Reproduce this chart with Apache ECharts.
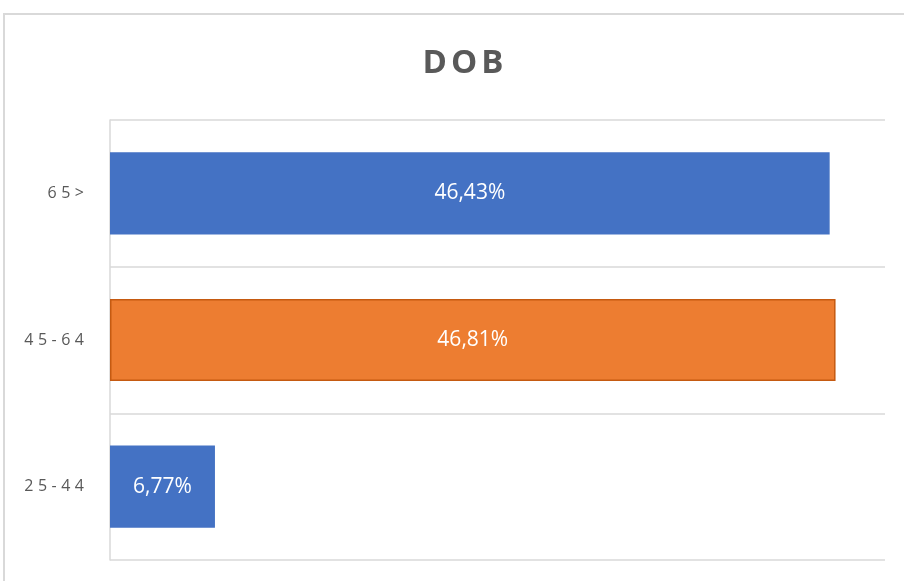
<!DOCTYPE HTML>
<html>

<head>
  <title>DOB</title>
  <meta charset="utf-8" />
  <style>
    html, body { margin: 0; padding: 0; background: #fff; }
  </style>
</head>

<body>
  <div id="main" style="width: 904px; height: 581px;"></div>

  <script type="text/javascript" src="https://cdn.jsdelivr.net/npm/echarts@6.0.0/dist/echarts.min.js"></script>
  <script type="text/javascript">
    // data, bottom to top
    var categories = ['25-44', '45-64', '65>'];
    var values = [6.77, 46.81, 46.43];
    var barColors = ['#4472C4', '#ED7D31', '#4472C4'];
    var barBorders = ['#4472C4', '#C55A11', '#4472C4'];

    var myChart = echarts.init(document.getElementById('main'), null, { renderer: 'canvas' });

    // spread letters out a bit, like the spaced text in the original
    function spaced(str, tag) {
      var out = '';
      for (var k = 0; k < str.length; k++) {
        out += '{' + (k < str.length - 1 ? tag : tag + 'e') + '|' + str.charAt(k) + '}';
      }
      return out;
    }

    var seriesData = [];
    for (var i = 0; i < values.length; i++) {
      seriesData.push({
        value: values[i],
        itemStyle: { color: barColors[i], borderColor: barBorders[i], borderWidth: 1.5 }
      });
    }

    var titleStyle = { fontSize: 33, fontWeight: 'bold', color: '#595959', fontFamily: 'Open Sans' };
    var catStyle = { fontSize: 16, color: '#595959', fontFamily: 'Open Sans' };

    myChart.setOption({
      animation: false,
      textStyle: { fontFamily: 'Open Sans' },
      title: {
        text: spaced('DOB', 't'),
        left: 458,
        top: 42,
        textAlign: 'center',
        textStyle: {
          fontSize: 33, fontWeight: 'bold', color: '#595959', fontFamily: 'Open Sans',
          rich: {
            t: Object.assign({ padding: [0, 4, 0, 0] }, titleStyle),
            te: titleStyle
          }
        }
      },
      graphic: [
        {
          type: 'rect',
          shape: { x: 4, y: 14, width: 1200, height: 1000 },
          style: { fill: 'none', stroke: '#d9d9d9', lineWidth: 2 },
          silent: true
        }
      ],
      grid: { left: 110, right: 19, top: 120, bottom: 21 },
      xAxis: {
        type: 'value',
        min: 0,
        max: 50,
        show: false
      },
      yAxis: {
        type: 'category',
        data: categories,
        axisLine: { show: true, lineStyle: { color: '#d9d9d9', width: 1.5 } },
        axisTick: { show: false },
        axisLabel: {
          color: '#595959',
          fontSize: 16,
          margin: 26,
          formatter: function (v) { return spaced(v, 'c'); },
          rich: {
            c: Object.assign({ padding: [0, 4.5, 0, 0] }, catStyle),
            ce: catStyle
          }
        },
        splitLine: { show: true, lineStyle: { color: '#d9d9d9', width: 1.5 } }
      },
      series: [
        {
          type: 'bar',
          data: seriesData,
          barCategoryGap: '44%',
          label: {
            show: true,
            position: 'inside',
            color: '#ffffff',
            fontSize: 21,
            formatter: function (p) {
              return p.value.toFixed(2).replace('.', ',') + '%';
            }
          }
        }
      ]
    });
  </script>
</body>

</html>
